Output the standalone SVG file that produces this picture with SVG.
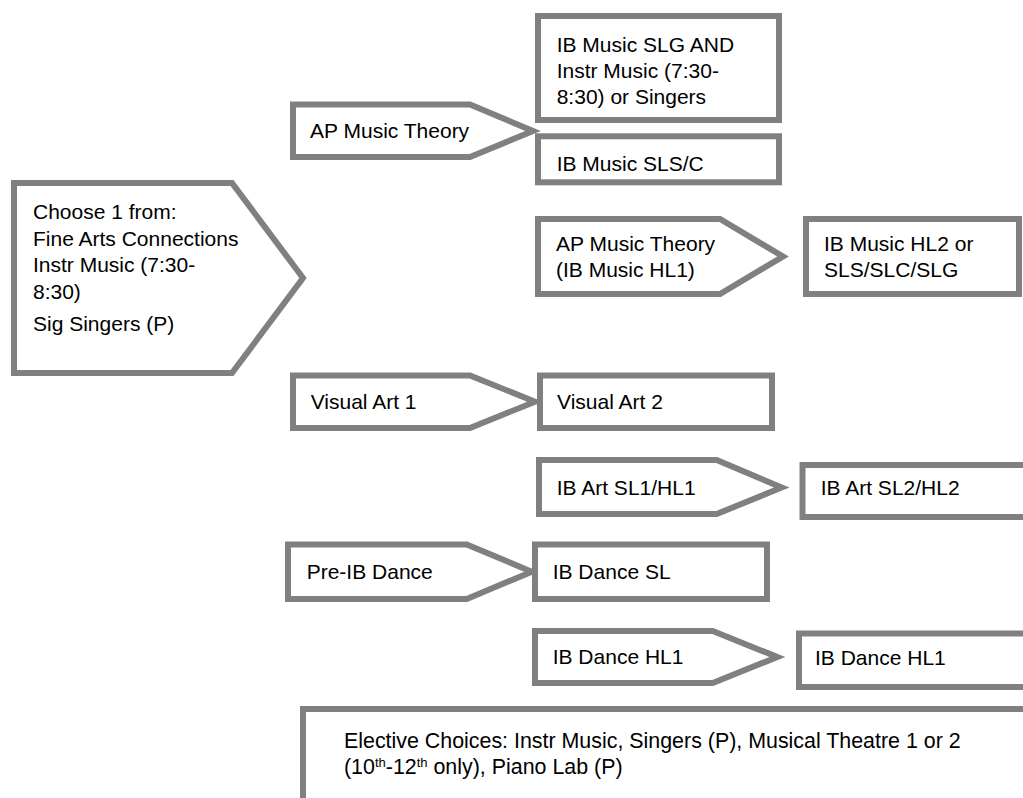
<svg xmlns="http://www.w3.org/2000/svg" width="1023" height="798" viewBox="0 0 1023 798">
<style>
.shape{fill:#ffffff;stroke:#808080;stroke-width:6;stroke-linejoin:miter;stroke-miterlimit:10}
.t{font-family:"Liberation Sans",Arial,sans-serif;font-size:21px;fill:#000000}
.e{font-size:21.4px}
.sup{font-size:13px}
</style>
<rect width="1023" height="798" fill="#ffffff"/>
<g id="connectors"></g>
<g id="node-choose">
<polygon class="shape" points="14,183 232,183 303,278 232,373 14,373"/>
<text class="t" x="33" y="219">Choose 1 from:</text>
<text class="t" x="33" y="245.5">Fine Arts Connections</text>
<text class="t" x="33" y="272">Instr Music (7:30-</text>
<text class="t" x="33" y="298.5">8:30)</text>
<text class="t" x="33" y="331">Sig Singers (P)</text>
</g>
<g id="node-ap-theory">
<polygon class="shape" points="293,104.5 470,104.5 533,131 470,157 293,157"/>
<text class="t" x="310" y="137.5">AP Music Theory</text>
</g>
<g id="node-ib-slg">
<rect class="shape" x="538" y="16" width="241" height="104"/>
<text class="t" x="556.7" y="52">IB Music SLG AND</text>
<text class="t" x="556.7" y="78">Instr Music (7:30-</text>
<text class="t" x="556.7" y="104">8:30) or Singers</text>
</g>
<g id="node-ib-slsc">
<rect class="shape" x="538" y="136.3" width="241" height="46"/>
<text class="t" x="556.7" y="171">IB Music SLS/C</text>
</g>
<g id="node-ap-theory-hl1">
<polygon class="shape" points="538,219 720,219 783,256.5 720,294 538,294"/>
<text class="t" x="556" y="251">AP Music Theory</text>
<text class="t" x="556" y="277">(IB Music HL1)</text>
</g>
<g id="node-ib-hl2">
<rect class="shape" x="806" y="219" width="213" height="75"/>
<text class="t" x="824" y="251">IB Music HL2 or</text>
<text class="t" x="824" y="277">SLS/SLC/SLG</text>
</g>
<g id="node-visual-art-1">
<polygon class="shape" points="293,375.5 470,375.5 535,401.7 470,428 293,428"/>
<text class="t" x="310.7" y="409">Visual Art 1</text>
</g>
<g id="node-visual-art-2">
<rect class="shape" x="540" y="375.5" width="232" height="52.5"/>
<text class="t" x="557" y="409">Visual Art 2</text>
</g>
<g id="node-ib-art-1">
<polygon class="shape" points="539,460 716.7,460 781.7,487.5 716.7,514 539,514"/>
<text class="t" x="556.7" y="494.5">IB Art SL1/HL1</text>
</g>
<g id="node-ib-art-2">
<rect class="shape" x="802.5" y="465" width="300" height="52"/>
<text class="t" x="820.7" y="495">IB Art SL2/HL2</text>
</g>
<g id="node-pre-ib-dance">
<polygon class="shape" points="288,544.5 466.7,544.5 531.7,571.7 466.7,599 288,599"/>
<text class="t" x="306.7" y="579">Pre-IB Dance</text>
</g>
<g id="node-ib-dance-sl">
<rect class="shape" x="535" y="544.5" width="232" height="54.5"/>
<text class="t" x="552.7" y="579">IB Dance SL</text>
</g>
<g id="node-ib-dance-hl1-a">
<polygon class="shape" points="535,631 712.7,631 777.3,657 712.7,683 535,683"/>
<text class="t" x="552.7" y="663.5">IB Dance HL1</text>
</g>
<g id="node-ib-dance-hl1-b">
<rect class="shape" x="799" y="633.5" width="300" height="53.5"/>
<text class="t" x="815" y="665">IB Dance HL1</text>
</g>
<g id="node-elective">
<rect class="shape" x="303" y="709" width="800" height="200"/>
<text class="t e" x="344" y="748">Elective Choices: Instr Music, Singers (P), Musical Theatre 1 or 2</text>
<text class="t e" x="344" y="774">(10<tspan class="sup" dy="-7">th</tspan><tspan dy="7">-12</tspan><tspan class="sup" dy="-7">th</tspan><tspan dy="7"> only), Piano Lab (P)</tspan></text>
</g>
</svg>
